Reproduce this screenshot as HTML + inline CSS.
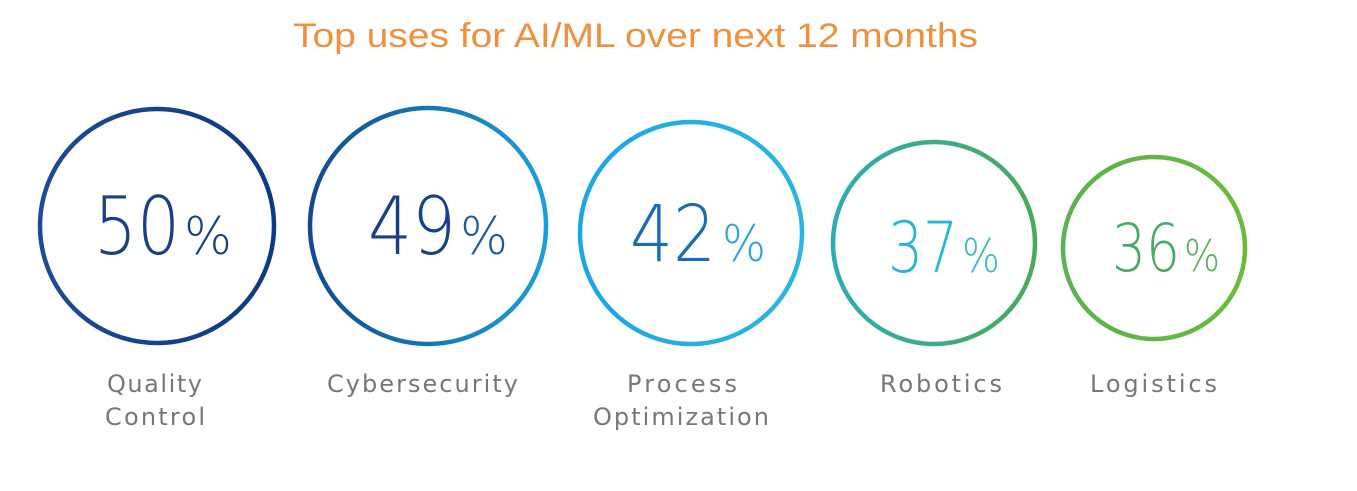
<!DOCTYPE html>
<html><head><meta charset="utf-8"><style>
body{margin:0;width:1357px;height:486px;background:#fff;overflow:hidden}
</style></head><body>
<svg width="1357" height="486" xmlns="http://www.w3.org/2000/svg" font-family="'DejaVu Sans','Liberation Sans',sans-serif">
<defs>
<linearGradient id="g1" x1="0" x2="1"><stop offset="0" stop-color="#1f4a94"/><stop offset="1" stop-color="#0d3a82"/></linearGradient>
<linearGradient id="g2" x1="0" x2="1"><stop offset="0" stop-color="#114a92"/><stop offset="1" stop-color="#1aa0d8"/></linearGradient>
<linearGradient id="g3" x1="0" x2="1"><stop offset="0" stop-color="#1aa7e6"/><stop offset="1" stop-color="#2bb6df"/></linearGradient>
<linearGradient id="g4" x1="0" x2="1"><stop offset="0" stop-color="#2eadb0"/><stop offset="1" stop-color="#4aaa5a"/></linearGradient>
<linearGradient id="g5" x1="0" x2="1"><stop offset="0" stop-color="#5bb250"/><stop offset="1" stop-color="#6cba3a"/></linearGradient>
</defs>
<text x="293" y="47" font-family="'Liberation Sans',sans-serif" font-size="34" fill="#f0903c" textLength="685" lengthAdjust="spacingAndGlyphs">Top uses for AI/ML over next 12 months</text>
<circle cx="157" cy="226" r="117" fill="none" stroke="url(#g1)" stroke-width="4.5"/>
<circle cx="428" cy="226" r="118" fill="none" stroke="url(#g2)" stroke-width="4.5"/>
<circle cx="691" cy="233" r="111" fill="none" stroke="url(#g3)" stroke-width="4.5"/>
<circle cx="934" cy="243" r="101" fill="none" stroke="url(#g4)" stroke-width="4.5"/>
<circle cx="1154" cy="248" r="91" fill="none" stroke="url(#g5)" stroke-width="4.5"/>
<g font-weight="200">
<text x="94" y="254" font-size="80" fill="#1b3f87" textLength="86" lengthAdjust="spacingAndGlyphs">50</text>
<text x="184" y="254" font-size="52" fill="#1b3f87" textLength="48" lengthAdjust="spacingAndGlyphs">%</text>
<text x="368" y="254" font-size="80" fill="#17408a" textLength="88" lengthAdjust="spacingAndGlyphs">49</text>
<text x="460" y="254" font-size="52" fill="#1d5aa0" textLength="48" lengthAdjust="spacingAndGlyphs">%</text>
<text x="630" y="261" font-size="78" fill="#1a6cb8" textLength="86" lengthAdjust="spacingAndGlyphs">42</text>
<text x="722" y="261" font-size="50" fill="#2aa3dc" textLength="44" lengthAdjust="spacingAndGlyphs">%</text>
<text x="888" y="272" font-size="70" fill="#2bb3dc" textLength="70" lengthAdjust="spacingAndGlyphs">37</text>
<text x="962" y="272" font-size="46" fill="#3cb7cc" textLength="38" lengthAdjust="spacingAndGlyphs">%</text>
<text x="1112" y="271" font-size="66" fill="#4aa86a" textLength="68" lengthAdjust="spacingAndGlyphs">36</text>
<text x="1184" y="271" font-size="44" fill="#5ab05a" textLength="36" lengthAdjust="spacingAndGlyphs">%</text>
</g>
<g font-size="24" fill="#777" lengthAdjust="spacing">
<text x="107" y="392" textLength="95">Quality</text>
<text x="105" y="425" textLength="100">Control</text>
<text x="327" y="392" textLength="191">Cybersecurity</text>
<text x="627" y="392" textLength="110">Process</text>
<text x="593" y="425" textLength="176">Optimization</text>
<text x="880" y="392" textLength="122">Robotics</text>
<text x="1090" y="392" textLength="127">Logistics</text>
</g>
</svg>
</body></html>
